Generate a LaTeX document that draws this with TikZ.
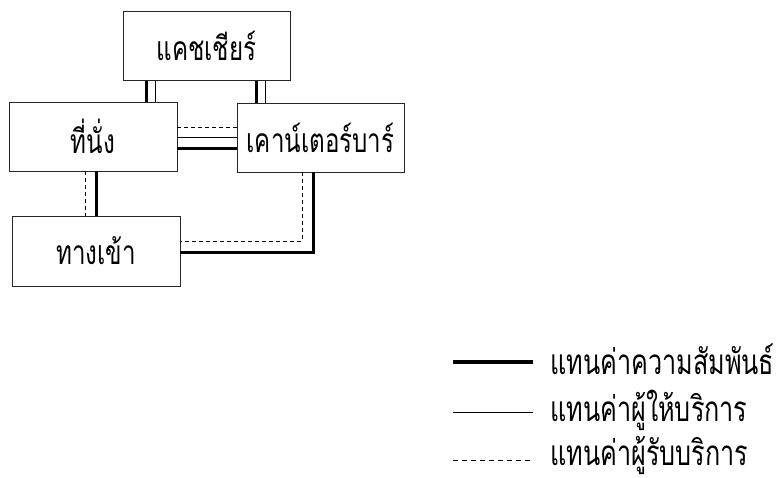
\documentclass[tikz,border=0pt]{standalone}
\usepackage{fontspec}
\newfontfamily\thaifont[Script=Thai, FakeStretch=0.72]{Loma}
\begin{document}
\begin{tikzpicture}[x=1pt,y=-1pt,
  box/.style={draw=black!85, line width=0.8pt, fill=white, inner sep=0pt, font=\thaifont\fontsize{33.5}{38}\selectfont},
  rel/.style={line width=3pt},
  prov/.style={line width=0.8pt},
  recv/.style={line width=0.8pt, dash pattern=on 4pt off 3pt},
  lbl/.style={font=\thaifont\fontsize{35}{40}\selectfont, anchor=base west, inner sep=0pt, text depth=0pt}]
\useasboundingbox (0,0) rectangle (781,477);
% boxes
\node[box, minimum width=167pt, minimum height=69pt] (cash) at (206.5,46) {แคชเชียร์};
\node[box, minimum width=168pt, minimum height=69pt] (seat) at (93,136.5) {ที่นั่ง};
\node[box, minimum width=167pt, minimum height=69pt] (bar) at (320.5,137.5) {เคาน์เตอร์บาร์};
\node[box, minimum width=168pt, minimum height=70pt] (door) at (96,251) {ทางเข้า};
% cashier - seat
\draw[rel] (cash.south -| 146,0) -- (seat.north -| 146,0);
\draw[prov] (cash.south -| 155,0) -- (seat.north -| 155,0);
% cashier - bar
\draw[rel] (cash.south -| 256,0) -- (bar.north -| 256,0);
\draw[prov] (cash.south -| 265,0) -- (bar.north -| 265,0);
% seat - bar
\draw[recv] (seat.east |- 0,127) -- (bar.west |- 0,127);
\draw[prov] (seat.east |- 0,137) -- (bar.west |- 0,137);
\draw[rel] (seat.east |- 0,148) -- (bar.west |- 0,148);
% seat - door
\draw[recv] (seat.south -| 85,0) -- (door.north -| 85,0);
\draw[rel] (seat.south -| 96,0) -- (door.north -| 96,0);
% bar - door
\coordinate (c1) at (302,241);
\coordinate (c2) at (313,252);
\draw[recv] (bar.south -| c1) -- (c1) -- (door.east |- c1);
\draw[rel] (bar.south -| c2) -- (c2) -- (door.east |- c2);
% legend
\coordinate (l1a) at (453,362); \coordinate (l1b) at (533,362);
\coordinate (l2a) at (453,412); \coordinate (l2b) at (533,412);
\coordinate (l3a) at (453,460); \coordinate (l3b) at (533,460);
\draw[line width=3.5pt] (l1a) -- (l1b);
\draw[prov] (l2a) -- (l2b);
\draw[line width=0.8pt, dash pattern=on 5pt off 4pt] (l3a) -- (l3b);
\node[lbl] (t1) at (550,374) {แทนค่าความสัมพันธ์};
\node[lbl] (t2) at (550,421) {แทนค่าผู้ให้บริการ};
\node[lbl] (t3) at (550,465) {แทนค่าผู้รับบริการ};
\end{tikzpicture}
\end{document}
